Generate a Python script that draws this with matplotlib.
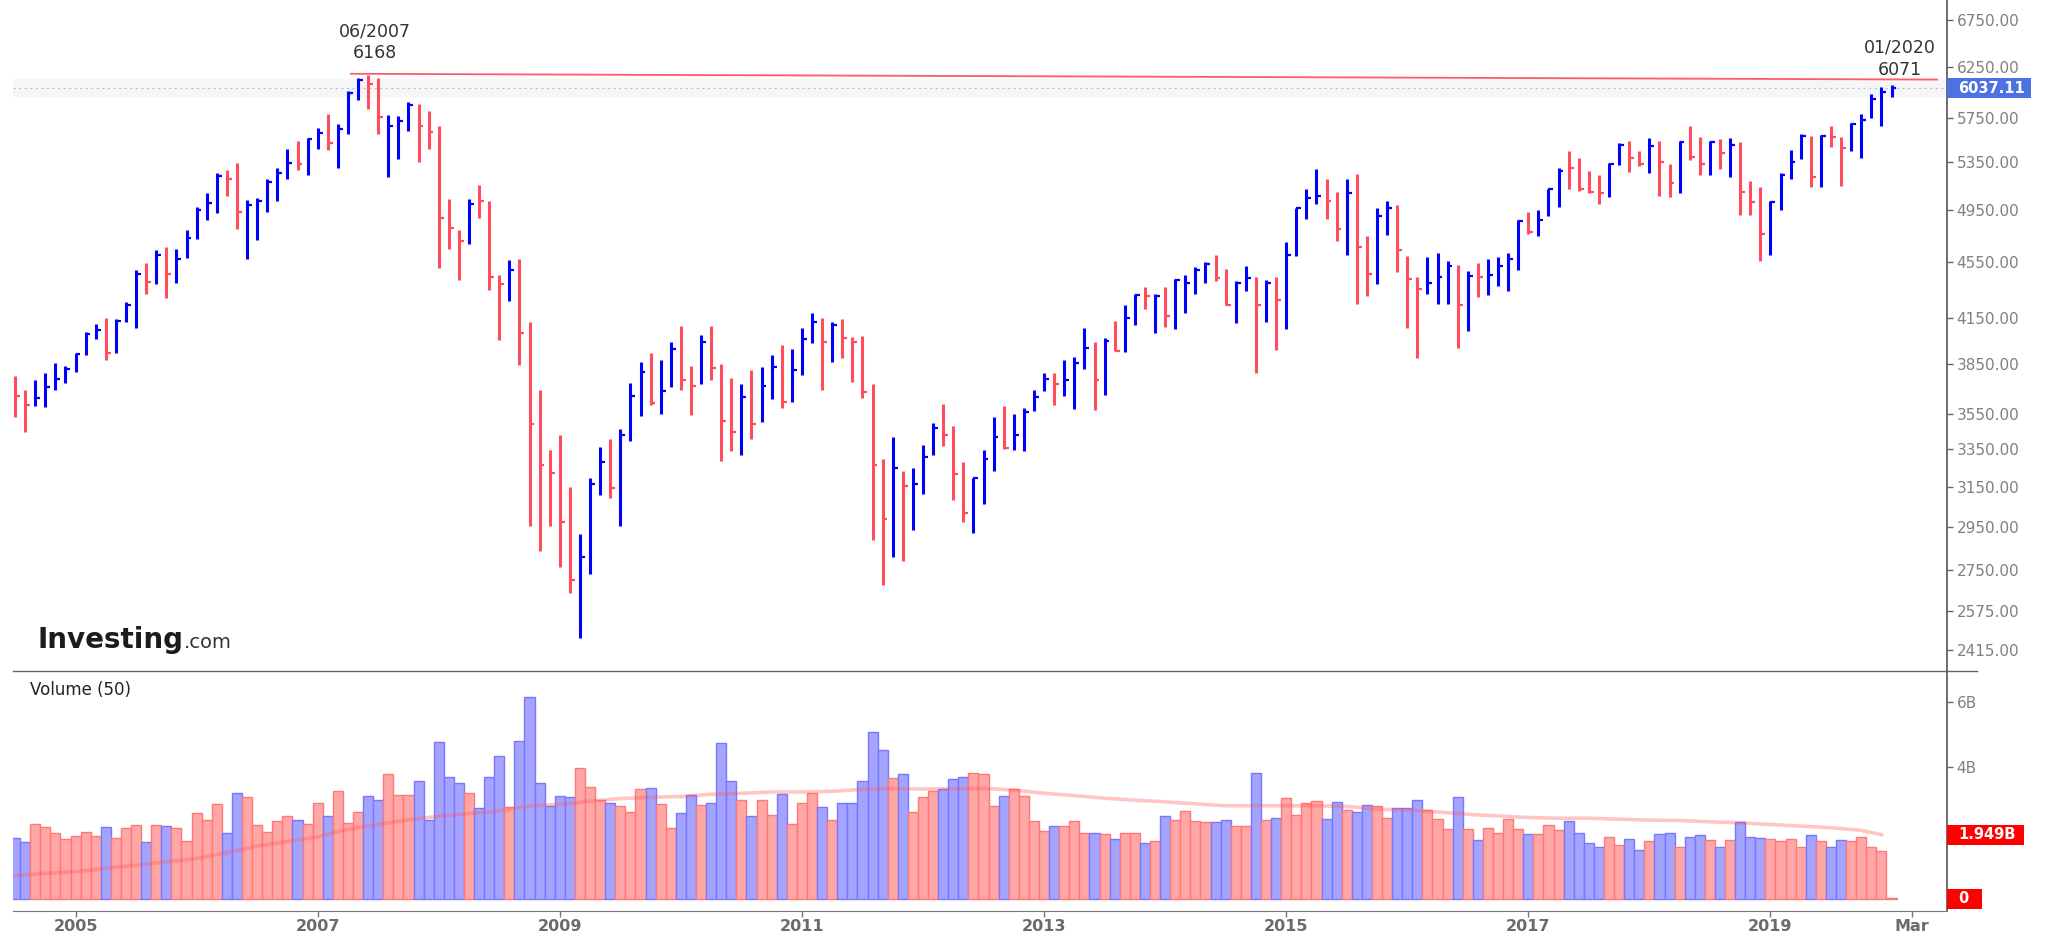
import numpy as np
import matplotlib.pyplot as plt
from matplotlib.lines import Line2D
from matplotlib.patches import Rectangle
from matplotlib import transforms
from matplotlib.ticker import NullLocator, NullFormatter

# Monthly HLC bars, 07/2004 .. 01/2020
high = [3777, 3688, 3750, 3792, 3856, 3838, 3919, 4058, 4109, 4152,
        4143, 4261, 4490, 4537, 4634, 4663, 4644, 4791, 4970, 5091,
        5253, 5279, 5345, 5030, 5044, 5209, 5301, 5467, 5535, 5562,
        5659, 5790, 5691, 6006, 6138, 6168, 6135, 5780, 5772, 5902,
        5881, 5812, 5680, 5037, 4791, 5037, 5154, 5019, 4453, 4560,
        4569, 4123, 3693, 3349, 3432, 3152, 2919, 3199, 3361, 3409,
        3465, 3732, 3860, 3919, 3876, 3988, 4094, 3838, 4035, 4094,
        3851, 3766, 3727, 3811, 3830, 3905, 3974, 3946, 4086, 4181,
        4152, 4123, 4143, 4022, 4027, 3727, 3298, 3419, 3235, 3251,
        3373, 3498, 3609, 3480, 3279, 3199, 3344, 3531, 3596, 3548,
        3583, 3688, 3797, 3797, 3876, 3895, 4080, 3988, 4016, 4129,
        4238, 4313, 4363, 4313, 4363, 4422, 4450, 4507, 4547, 4601,
        4497, 4406, 4516, 4434, 4413, 4434, 4695, 4966, 5118, 5294,
        5210, 5099, 5210, 5246, 4742, 4963, 5026, 4991, 4595, 4434,
        4585, 4617, 4553, 4521, 4478, 4537, 4569, 4585, 4611, 4871,
        4936, 4946, 5124, 5301, 5452, 5383, 5271, 5242, 5345, 5524,
        5543, 5448, 5566, 5543, 5334, 5543, 5672, 5574, 5543, 5554,
        5562, 5528, 5192, 5139, 5026, 5253, 5459, 5605, 5585, 5593,
        5680, 5574, 5699, 5790, 5984, 6050, 6071]
low = [3529, 3444, 3596, 3591, 3693, 3731, 3803, 3905, 4008, 3873,
       3919, 4120, 4086, 4313, 4388, 4286, 4397, 4575, 4722, 4871,
       4922, 5062, 4798, 4566, 4716, 4936, 5019, 5206, 5279, 5242,
       5467, 5459, 5301, 5605, 5923, 5833, 5605, 5223, 5374, 5625,
       5352, 5467, 4500, 4644, 4413, 4684, 4889, 4345, 4002, 4270,
       3846, 2958, 2837, 2958, 2766, 2649, 2464, 2736, 3109, 3096,
       2958, 3397, 3537, 3604, 3548, 3707, 3688, 3541, 3727, 3750,
       3287, 3342, 3320, 3409, 3502, 3637, 3583, 3617, 3784, 3983,
       3693, 3860, 3887, 3740, 3642, 2889, 2685, 2809, 2791, 2938,
       3113, 3320, 3366, 3087, 2975, 2925, 3065, 3235, 3353, 3349,
       3342, 3566, 3684, 3604, 3655, 3579, 3819, 3573, 3658, 3930,
       3927, 4106, 4212, 4052, 4091, 4077, 4181, 4316, 4397, 4406,
       4238, 4114, 4335, 3792, 4123, 3940, 4077, 4591, 4875, 4998,
       4875, 4708, 4601, 4247, 4303, 4388, 4755, 4475, 4080, 3891,
       4316, 4247, 4247, 3951, 4063, 4292, 4306, 4369, 4338, 4490,
       4758, 4742, 4900, 4975, 5121, 5105, 5091, 4998, 5056, 5323,
       5268, 5316, 5253, 5067, 5059, 5091, 5371, 5242, 5242, 5290,
       5223, 4907, 4907, 4553, 4601, 4946, 5209, 5374, 5137, 5137,
       5486, 5148, 5448, 5387, 5748, 5680, 5955]
close = [3655, 3604, 3642, 3706, 3757, 3819, 3911, 4044, 4072, 3919,
         4129, 4241, 4459, 4403, 4601, 4459, 4569, 4732, 4953, 5005,
         5235, 5206, 4936, 4987, 5019, 5181, 5253, 5345, 5334, 5554,
         5612, 5524, 5644, 5985, 6116, 6078, 5764, 5672, 5719, 5873,
         5680, 5620, 4882, 4805, 4705, 4998, 5026, 4437, 4388, 4485,
         4050, 3492, 3264, 3222, 2975, 2707, 2809, 3164, 3279, 3146,
         3432, 3655, 3803, 3611, 3684, 3946, 3750, 3712, 3988, 3825,
         3510, 3444, 3647, 3492, 3712, 3830, 3617, 3811, 4008, 4123,
         3988, 4106, 4016, 3988, 3680, 3264, 2990, 3251, 3157, 3168,
         3307, 3468, 3432, 3218, 3021, 3199, 3298, 3420, 3357, 3432,
         3561, 3647, 3757, 3727, 3750, 3856, 3951, 3750, 3997, 3935,
         4152, 4310, 4300, 4305, 4167, 4413, 4397, 4490, 4531, 4428,
         4241, 4391, 4428, 4241, 4391, 4276, 4601, 4963, 5044, 5062,
         5023, 4798, 5091, 4660, 4459, 4900, 4966, 4640, 4422, 4350,
         4397, 4434, 4516, 4238, 4446, 4440, 4453, 4516, 4569, 4865,
         4773, 4871, 5118, 5271, 5297, 5121, 5099, 5091, 5338, 5505,
         5383, 5338, 5497, 5356, 5175, 5528, 5400, 5338, 5528, 5427,
         5505, 5095, 5016, 4758, 5016, 5242, 5356, 5585, 5223, 5582,
         5574, 5475, 5691, 5730, 5927, 5997, 6037.11]
# u = up month (blue), d = down month (red)
price_dir = ("dduuuuuuud uuududuuuu udduuuuudu uduuudduuu dddddudddu "
             "dddddduuud uuuduuddud dduduuduuu dudddddudu uuddduuudu "
             "uuuduuudud uududuuuud duududuuuu ddudduuddd uuududuuuu "
             "duuudddduu ddudduddud uddduuuudu dduuuuu").replace(" ", "")

# volume, billions
volume = [1.85, 1.73, 2.28, 2.17, 2.00, 1.82, 1.90, 2.04, 1.90, 2.17,
          1.85, 2.16, 2.24, 1.73, 2.24, 2.21, 2.16, 1.77, 2.60, 2.40,
          2.87, 2.01, 3.21, 3.10, 2.24, 2.04, 2.35, 2.52, 2.39, 2.28,
          2.91, 2.52, 3.29, 2.31, 2.63, 3.14, 3.01, 3.80, 3.17, 3.17,
          3.57, 2.39, 4.78, 3.72, 3.53, 3.21, 2.75, 3.72, 4.34, 2.79,
          4.81, 6.14, 3.53, 2.83, 3.14, 3.10, 3.99, 3.40, 3.02, 2.91,
          2.83, 2.63, 3.33, 3.37, 2.87, 2.16, 2.60, 3.17, 2.86, 2.91,
          4.75, 3.57, 3.02, 2.53, 3.02, 2.55, 3.18, 2.28, 2.90, 3.21,
          2.79, 2.39, 2.90, 2.90, 3.57, 5.08, 4.54, 3.69, 3.79, 2.63,
          3.10, 3.29, 3.33, 3.65, 3.72, 3.84, 3.80, 2.83, 3.14, 3.33,
          3.14, 2.35, 2.05, 2.20, 2.20, 2.35, 2.01, 2.01, 1.97, 1.82,
          2.01, 2.01, 1.70, 1.74, 2.52, 2.39, 2.67, 2.35, 2.32, 2.32,
          2.39, 2.20, 2.20, 3.84, 2.39, 2.47, 3.06, 2.55, 2.90, 2.98,
          2.43, 2.94, 2.71, 2.63, 2.86, 2.82, 2.47, 2.75, 2.75, 3.02,
          2.71, 2.43, 2.12, 3.10, 2.12, 1.78, 2.16, 2.01, 2.43, 2.12,
          1.97, 1.97, 2.24, 2.09, 2.35, 2.01, 1.70, 1.58, 1.89, 1.62,
          1.81, 1.49, 1.74, 1.97, 2.01, 1.58, 1.89, 1.93, 1.78, 1.58,
          1.78, 2.32, 1.89, 1.85, 1.81, 1.74, 1.81, 1.58, 1.93, 1.74,
          1.58, 1.78, 1.74, 1.89, 1.58, 1.45, 0.03]
volume_dir = ("uudddddddu dddududddd duudddddud duddduuddd uuuuuduuud "
              "uuuuuudddu dddudduudu uududduddd uduuuuudud dduuudddud "
              "dddudddudu ddududdddu uddududddd uuduudduuu dddududddd "
              "uddduuuudd uuduuduudu duuuddddud uuddddd").replace(" ", "")

# volume moving average (50), read at bar numbers (1 = 07/2004)
ma_bar = [1, 4, 7, 10, 13, 16, 19, 22, 25, 28, 31, 34, 37, 40, 43, 46, 49, 52,
          55, 58, 61, 64, 67, 70, 73, 76, 79, 82, 85, 88, 91, 94, 97, 100, 103,
          106, 109, 112, 115, 118, 121, 124, 127, 130, 133, 136, 139, 142, 145,
          148, 151, 154, 157, 160, 163, 166, 169, 172, 175, 178, 181, 184, 186]
ma_value = [0.69, 0.77, 0.82, 0.92, 1.02, 1.12, 1.22, 1.40, 1.60, 1.74, 1.88,
            2.11, 2.26, 2.40, 2.51, 2.59, 2.67, 2.83, 2.87, 2.97, 3.05, 3.09,
            3.11, 3.18, 3.21, 3.25, 3.25, 3.27, 3.33, 3.36, 3.34, 3.35, 3.36,
            3.31, 3.21, 3.14, 3.06, 3.00, 2.95, 2.89, 2.83, 2.83, 2.83, 2.83,
            2.81, 2.73, 2.70, 2.64, 2.57, 2.52, 2.47, 2.45, 2.45, 2.42, 2.39,
            2.38, 2.34, 2.31, 2.26, 2.21, 2.16, 2.08, 1.949]

price_ticks = [6750, 6250, 5750, 5350, 4950, 4550, 4150, 3850, 3550, 3350,
               3150, 2950, 2750, 2575, 2415]
year_pos = [6, 30, 54, 78, 102, 126, 150, 174, 188]
year_labels = ['2005', '2007', '2009', '2011', '2013', '2015', '2017', '2019', 'Mar']
last_price = 6037.11
ma_last = 1.949
peak_2007 = 6168
peak_2020 = 6071

BLUE = '#0000ff'
RED = '#ff4d5e'
W, H = 2053, 935

fig = plt.figure(figsize=(W / 100, H / 100), dpi=100)
ax = fig.add_axes([13 / W, (H - 671) / H, 1934 / W, 671 / H])
axv = fig.add_axes([13 / W, (H - 911) / H, 1934 / W, 240 / H], sharex=ax)

x = np.arange(len(close))

# price bars
cols = [BLUE if d == 'u' else RED for d in price_dir]
ax.vlines(x, low, high, colors=cols, lw=2.2, zorder=3)
ax.hlines(close, x, x + 0.48, colors=cols, lw=1.6, zorder=3)

ax.set_yscale('log')
ax.set_ylim(2334, 6970)
ax.set_xlim(-0.2, 191.5)

ax.axhspan(5950, 6130, color='#f6f6f6', lw=0, zorder=0)
ax.axhline(last_price, color='#6a86ff', lw=0.8, ls=(0, (2, 3)), alpha=0.5, zorder=1)
ax.plot([33.3, 190.5], [6180, 6122], color='#ff5a6e', lw=1.3, zorder=4)

bt = transforms.blended_transform_factory(ax.transData, ax.transAxes)
ax.text(35.7, 0.9538, '06/2007', transform=bt, ha='center', va='center', fontsize=12.5, color='#333333')
ax.text(35.7, 0.921, str(peak_2007), transform=bt, ha='center', va='center', fontsize=12.5, color='#333333')
ax.text(186.8, 0.9289, '01/2020', transform=bt, ha='center', va='center', fontsize=12.5, color='#333333')
ax.text(186.8, 0.8957, str(peak_2020), transform=bt, ha='center', va='center', fontsize=12.5, color='#333333')

ax.yaxis.tick_right()
ax.set_yticks(price_ticks, labels=[f'{v:.2f}' for v in price_ticks])
ax.yaxis.set_minor_locator(NullLocator())
ax.yaxis.set_minor_formatter(NullFormatter())
ax.tick_params(axis='y', length=4, width=1, color='#666666', labelcolor='#808080', labelsize=11, pad=3)
ax.tick_params(axis='x', which='both', bottom=False, labelbottom=False)
for s in ['top', 'left', 'bottom']:
    ax.spines[s].set_visible(False)
ax.spines['right'].set_color('#555555')
ax.spines['right'].set_linewidth(1.2)

# volume panel
face = ['#a4a4ff' if d == 'u' else '#ffa6a6' for d in volume_dir]
edge = ['#7777ff' if d == 'u' else '#ff7777' for d in volume_dir]
axv.bar(x, volume, width=1.0, color=face, edgecolor=edge, linewidth=1.0, zorder=2)
axv.plot(np.array(ma_bar) - 1, ma_value, color='#ff5a5a', lw=2.6, alpha=0.35, zorder=3)
axv.set_ylim(-0.38, 6.94)
axv.yaxis.tick_right()
axv.set_yticks([4, 6], labels=['4B', '6B'])
axv.tick_params(axis='y', length=4, width=1, color='#666666', labelcolor='#808080', labelsize=11, pad=3)
axv.set_xticks(year_pos, labels=year_labels)
axv.tick_params(axis='x', length=4, width=1, color='#777777', labelcolor='#6b6b6b', labelsize=11.5, pad=2)
for t in axv.get_xticklabels():
    t.set_fontweight('bold')
for s in ['top', 'left']:
    axv.spines[s].set_visible(False)
axv.spines['right'].set_color('#555555')
axv.spines['right'].set_linewidth(1.2)
axv.spines['bottom'].set_color('#777777')
axv.text(0.009, 0.92, 'Volume (50)', transform=axv.transAxes, fontsize=12, color='#222222', va='center')

# panel separator
fig.add_artist(Line2D([13 / W, 1977 / W], [(H - 671) / H] * 2, color='#666666', lw=1))


def tag(axis, value, text, color, x1):
    y = axis.transData.transform((0, value))[1]
    fig.add_artist(Rectangle((1947 / W, (y - 10) / H), (x1 - 1947) / W, 20 / H,
                             transform=fig.transFigure, facecolor=color, edgecolor='none', zorder=5))
    fig.text(1958 / W, y / H, text, color='white', fontsize=10.5, fontweight='bold',
             va='center', ha='left', zorder=6)


tag(ax, last_price, f'{last_price:.2f}', '#4d70e3', 2031)
tag(axv, ma_last, f'{ma_last}B', '#ff0000', 2024)
tag(axv, 0, '0', '#ff0000', 1982)

# watermark
wm = fig.text(37 / W, (H - 648) / H, 'Investing', fontsize=20, fontweight='bold', color='#1c1c1c', va='baseline')
bb = wm.get_window_extent(renderer=fig.canvas.get_renderer())
fig.text((bb.x1 + 1) / W, (H - 648) / H, '.com', fontsize=14, color='#333333', va='baseline')

fig.savefig('out.png', dpi=100)
